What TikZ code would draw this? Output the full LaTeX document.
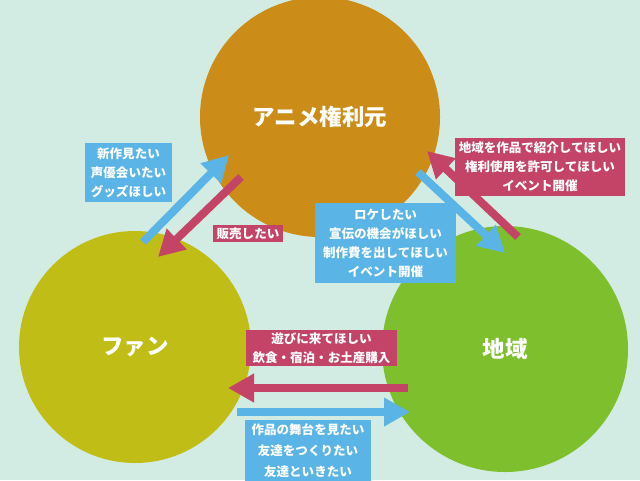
\documentclass[tikz,border=0pt]{standalone}
\usepackage{fontspec}
\newfontfamily\jpfont{Noto Sans CJK JP}
\usetikzlibrary{arrows.meta}
\definecolor{bgmint}{HTML}{D3ECE3}
\definecolor{amber}{HTML}{CB8D17}
\definecolor{fanyel}{HTML}{C0BD16}
\definecolor{leaf}{HTML}{7EBF2E}
\definecolor{skyb}{HTML}{5AB5E6}
\definecolor{rose}{HTML}{C44468}
\tikzset{
  every node/.append style={font=\jpfont},
  party/.style={circle, minimum size=#1, inner sep=0pt, text=white,
                font=\jpfont\bfseries\fontsize{16}{19}\selectfont},
  wish/.style={align=center, inner sep=0pt, text=white,
               font=\jpfont\bfseries\fontsize{8.9}{13.5}\selectfont},
  wishb/.style={wish, fill=skyb},
  wishr/.style={wish, fill=rose},
  flow/.style={line width=2mm, -{Triangle[width=6.8mm,length=6.5mm]}},
  flowb/.style={flow, draw=skyb},
  flowr/.style={flow, draw=rose},
}
\begin{document}
\begin{tikzpicture}[x=0.25mm,y=-0.25mm]
  \fill[bgmint] (0,0) rectangle (640,480);
  \clip (0,0) rectangle (640,480);
  % the three parties
  \node[party=60mm, fill=amber] (anime) at (320,117) {アニメ権利元};
  \node[party=58mm, fill=fanyel] (fan) at (135,347) {ファン};
  \node[party=61.5mm, fill=leaf] (area) at (505,349) {地域};
  % arrow ends
  \coordinate (fanA) at (143,242);  \coordinate (animeF) at (229,155);
  \coordinate (animeF2) at (241,177); \coordinate (fanA2) at (158,257);
  \coordinate (animeR) at (418,172); \coordinate (areaA) at (505,253);
  \coordinate (areaA2) at (518,237); \coordinate (animeR2) at (427,151);
  \coordinate (areaF) at (408,388);  \coordinate (fanR) at (228,388);
  \coordinate (fanR2) at (237,412);  \coordinate (areaF2) at (410,412);
  \draw[flowb] (fanA) -- (animeF);
  \draw[flowr] (animeF2) -- (fanA2);
  \draw[flowb] (animeR) -- (areaA);
  \draw[flowr] (areaA2) -- (animeR2);
  \draw[flowr] (areaF) -- (fanR);
  \draw[flowb] (fanR2) -- (areaF2);
  % what each side wants
  \node[wishb, minimum width=21.8mm, minimum height=14.8mm] (fanwish) at (128.5,172.5)
    {新作見たい\\声優会いたい\\グッズほしい};
  \node[wishr, minimum width=17.5mm, minimum height=4.3mm] (sell) at (248,233.5)
    {販売したい};
  \node[wishb, minimum width=35.3mm, minimum height=20mm] (animewish) at (385.5,243)
    {ロケしたい\\宣伝の機会がほしい\\制作費を出してほしい\\イベント開催};
  \node[wishr, minimum width=42.5mm, minimum height=14.5mm] (areawish) at (540,167)
    {地域を作品で紹介してほしい\\権利使用を許可してほしい\\イベント開催};
  \node[wishr, minimum width=37.8mm, minimum height=9mm] (visit) at (321.5,348)
    {遊びに来てほしい\\飲食・宿泊・お土産購入};
  \node[wishb, minimum width=31.5mm, minimum height=15.5mm,
        font=\jpfont\bfseries\fontsize{8.9}{15}\selectfont] (fanwish2) at (308,451)
    {作品の舞台を見たい\\友達をつくりたい\\友達といきたい};
\end{tikzpicture}
\end{document}
